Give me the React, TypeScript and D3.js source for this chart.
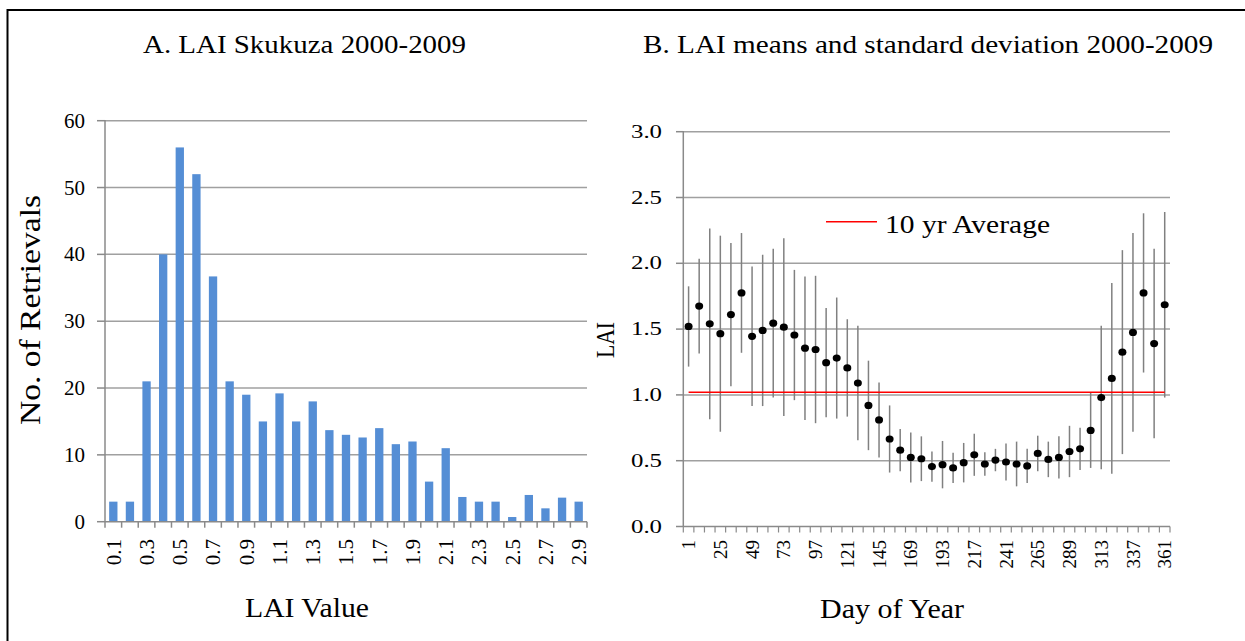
import React from "react";
import * as d3 from "d3";

// ---------- Panel A data ----------
const laiCategories = ["0.1","0.2","0.3","0.4","0.5","0.6","0.7","0.8","0.9","1.0","1.1","1.2","1.3","1.4","1.5","1.6","1.7","1.8","1.9","2.0","2.1","2.2","2.3","2.4","2.5","2.6","2.7","2.8","2.9"];
const retrievals = [3,3,21,40,56,52,36.7,21,19,15,19.2,15,18,13.7,13,12.6,14,11.6,12,6,11,3.7,3,3,0.7,4,2,3.6,3];
const leftYTicks = [0,10,20,30,40,50,60];

// ---------- Panel B data ----------
const days = [1,9,17,25,33,41,49,57,65,73,81,89,97,105,113,121,129,137,145,153,161,169,177,185,193,201,209,217,225,233,241,249,257,265,273,281,289,297,305,313,321,329,337,345,353,361];
const laiMeans = [1.52,1.675,1.54,1.465,1.61,1.775,1.445,1.49,1.545,1.515,1.455,1.355,1.345,1.245,1.28,1.205,1.09,0.92,0.81,0.665,0.58,0.525,0.515,0.455,0.47,0.445,0.485,0.545,0.475,0.505,0.49,0.475,0.46,0.555,0.51,0.525,0.57,0.59,0.73,0.98,1.125,1.325,1.475,1.775,1.39,1.685];
const laiSD = [0.305,0.36,0.725,0.745,0.545,0.455,0.53,0.575,0.565,0.675,0.495,0.545,0.56,0.415,0.46,0.37,0.435,0.34,0.285,0.255,0.16,0.19,0.17,0.115,0.18,0.115,0.15,0.16,0.09,0.085,0.14,0.17,0.13,0.135,0.135,0.16,0.195,0.16,0.285,0.545,0.725,0.775,0.755,0.605,0.72,0.705];
const tenYearAverage = 1.02;
const rightYTicks = [0,0.5,1,1.5,2,2.5,3];

const FONT = "'Liberation Serif', 'Times New Roman', Times, serif";
const GRID = "#a0a0a0";
const AXIS = "#8a8a8a";

export default function App() {
  // Panel A scales
  const xA = d3.scaleBand<string>().domain(laiCategories).range([105, 587]).paddingInner(0.5).paddingOuter(0.25);
  const yA = d3.scaleLinear().domain([0, 60]).range([521.7, 120.7]);
  const stepA = 482 / laiCategories.length;

  // Panel B scales
  const xB = d3.scaleBand<number>().domain(days).range([683.3, 1170]).padding(0);
  const yB = d3.scaleLinear().domain([0, 3]).range([526.5, 131.7]);
  const stepB = xB.step();
  const cB = (d: number) => (xB(d) as number) + stepB / 2;

  return (
    <svg width={1245} height={641} style={{ position: "absolute", left: 0, top: 0, background: "#fff" }} fontFamily={FONT}>
      <rect x={0} y={0} width={1245} height={641} fill="#fff" />
      {/* frame */}
      <line x1={7} y1={10} x2={1245} y2={10} stroke="#000" strokeWidth={2} />
      <line x1={7.5} y1={9} x2={7.5} y2={641} stroke="#000" strokeWidth={2} />

      {/* titles */}
      <text x={143} y={53} fontSize={26} textLength={323} lengthAdjust="spacingAndGlyphs">A. LAI Skukuza 2000-2009</text>
      <text x={643} y={53} fontSize={26} textLength={570} lengthAdjust="spacingAndGlyphs">B. LAI means and standard deviation 2000-2009</text>

      {/* ---------- Panel A ---------- */}
      {leftYTicks.map((t) => (
        <g key={"ga" + t}>
          {t > 0 && <line x1={105} x2={587} y1={yA(t)} y2={yA(t)} stroke={GRID} strokeWidth={1.5} />}
          <line x1={97} x2={105} y1={yA(t)} y2={yA(t)} stroke={AXIS} strokeWidth={1.5} />
          <text x={85} y={yA(t) + 7} fontSize={21} textAnchor="end">{t}</text>
        </g>
      ))}
      {retrievals.map((v, i) => (
        <rect key={"b" + i} x={xA(laiCategories[i])} y={yA(v)} width={xA.bandwidth()} height={yA(0) - yA(v)} fill="#558ed5" />
      ))}
      <line x1={105} x2={105} y1={120} y2={522} stroke={AXIS} strokeWidth={1.5} />
      <line x1={105} x2={587} y1={yA(0)} y2={yA(0)} stroke={AXIS} strokeWidth={1.5} />
      {d3.range(laiCategories.length + 1).map((i) => (
        <line key={"ta" + i} x1={105 + i * stepA} x2={105 + i * stepA} y1={yA(0)} y2={yA(0) + 6} stroke={AXIS} strokeWidth={1.5} />
      ))}
      {laiCategories.map((c, i) =>
        i % 2 === 0 ? (
          <text key={"la" + c} transform={`translate(${(xA(c) as number) + xA.bandwidth() / 2},539) rotate(-90)`} fontSize={21} textAnchor="end" dy="0.35em">{c}</text>
        ) : null
      )}
      <text transform="translate(40,310) rotate(-90)" fontSize={29} textAnchor="middle" textLength={230} lengthAdjust="spacingAndGlyphs">No. of Retrievals</text>
      <text x={245} y={617} fontSize={27} textLength={124} lengthAdjust="spacingAndGlyphs">LAI Value</text>

      {/* ---------- Panel B ---------- */}
      {rightYTicks.map((t) => (
        <g key={"gb" + t}>
          {t > 0 && <line x1={683.3} x2={1170} y1={yB(t)} y2={yB(t)} stroke={GRID} strokeWidth={1.5} />}
          <line x1={676} x2={683.3} y1={yB(t)} y2={yB(t)} stroke={AXIS} strokeWidth={1.5} />
          <text x={631} y={yB(t) + 6} fontSize={19} textLength={31} lengthAdjust="spacingAndGlyphs">{d3.format(".1f")(t)}</text>
        </g>
      ))}
      <line x1={683.3} x2={683.3} y1={131} y2={527} stroke={AXIS} strokeWidth={1.5} />
      <line x1={683.3} x2={1170} y1={yB(0)} y2={yB(0)} stroke={AXIS} strokeWidth={1.5} />
      {d3.range(days.length + 1).map((i) => (
        <line key={"tb" + i} x1={683.3 + i * stepB} x2={683.3 + i * stepB} y1={yB(0)} y2={yB(0) + 6} stroke={AXIS} strokeWidth={1.2} />
      ))}
      {days.map((d, i) =>
        i % 3 === 0 ? (
          <text key={"lb" + d} transform={`translate(${cB(d)},540) rotate(-90)`} fontSize={19} textAnchor="end" dy="0.35em">{d}</text>
        ) : null
      )}
      {/* error bars */}
      {days.map((d, i) => (
        <line key={"e" + d} x1={cB(d)} x2={cB(d)} y1={yB(laiMeans[i] + laiSD[i])} y2={yB(laiMeans[i] - laiSD[i])} stroke="#808080" strokeWidth={1.5} />
      ))}
      {/* average line */}
      <line x1={cB(days[0])} x2={cB(days[days.length - 1])} y1={yB(tenYearAverage)} y2={yB(tenYearAverage)} stroke="#ff0000" strokeWidth={1.6} />
      {/* means */}
      {days.map((d, i) => (
        <ellipse key={"p" + d} cx={cB(d)} cy={yB(laiMeans[i])} rx={4} ry={3.6} fill="#000" />
      ))}
      {/* legend */}
      <line x1={826} x2={877} y1={221.7} y2={221.7} stroke="#ff0000" strokeWidth={1.6} />
      <text x={885} y={233} fontSize={26} textLength={165} lengthAdjust="spacingAndGlyphs">10 yr Average</text>

      <text transform="translate(614,340) rotate(-90)" fontSize={26} textAnchor="middle" textLength={36} lengthAdjust="spacingAndGlyphs">LAI</text>
      <text x={820} y={618} fontSize={27} textLength={144} lengthAdjust="spacingAndGlyphs">Day of Year</text>
    </svg>
  );
}
